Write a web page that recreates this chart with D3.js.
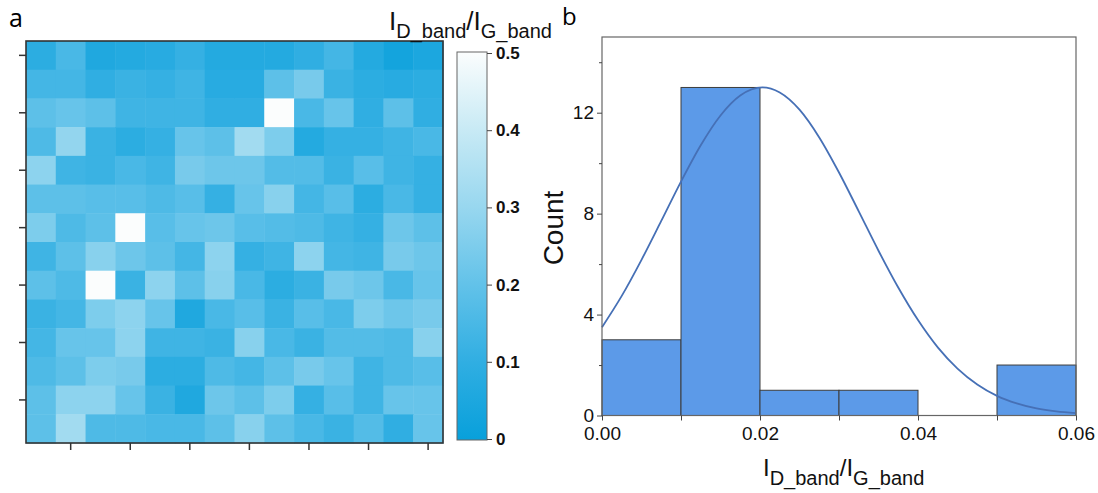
<!DOCTYPE html>
<html><head><meta charset="utf-8">
<script src="https://cdn.jsdelivr.net/npm/d3@7"></script>
<style>body{margin:0;background:#fff} svg{display:block}</style>
</head><body>
<svg id="c" width="1098" height="493"></svg>
<script>
// ---------- DATA ----------
const heatRows = [
  [0.09,0.15,0.06,0.07,0.08,0.11,0.07,0.07,0.07,0.10,0.14,0.07,0.03,0.05],
  [0.14,0.14,0.10,0.12,0.11,0.13,0.08,0.08,0.19,0.24,0.12,0.09,0.08,0.09],
  [0.19,0.21,0.19,0.13,0.13,0.13,0.10,0.10,0.50,0.15,0.21,0.10,0.19,0.10],
  [0.16,0.29,0.12,0.09,0.11,0.21,0.19,0.32,0.25,0.07,0.11,0.11,0.13,0.15],
  [0.28,0.13,0.12,0.15,0.13,0.24,0.22,0.22,0.17,0.17,0.12,0.18,0.13,0.11],
  [0.19,0.19,0.18,0.18,0.16,0.18,0.11,0.21,0.27,0.14,0.18,0.09,0.15,0.11],
  [0.25,0.16,0.19,0.50,0.18,0.21,0.22,0.18,0.17,0.16,0.13,0.11,0.22,0.19],
  [0.13,0.19,0.27,0.22,0.19,0.14,0.28,0.11,0.13,0.28,0.14,0.13,0.24,0.22],
  [0.19,0.16,0.50,0.12,0.28,0.19,0.27,0.15,0.09,0.12,0.24,0.22,0.15,0.21],
  [0.12,0.14,0.25,0.28,0.21,0.06,0.15,0.18,0.12,0.18,0.15,0.25,0.22,0.24],
  [0.14,0.21,0.21,0.28,0.13,0.13,0.12,0.27,0.15,0.12,0.17,0.17,0.16,0.27],
  [0.16,0.19,0.25,0.24,0.09,0.09,0.16,0.14,0.19,0.24,0.21,0.13,0.16,0.18],
  [0.19,0.28,0.28,0.21,0.12,0.06,0.22,0.19,0.25,0.11,0.18,0.13,0.21,0.21],
  [0.19,0.32,0.16,0.16,0.15,0.15,0.19,0.27,0.19,0.15,0.12,0.17,0.10,0.21]
];
const colorStopValues = [0, 0.1, 0.2, 0.3, 0.4, 0.5];
const colorStopColors = ["#08a0db","#30aee2","#62c2e9","#98d7ef","#c8eaf5","#fbfdfd"];
const colorbarTicks = [0, 0.1, 0.2, 0.3, 0.4, 0.5];
const colorbarTickLabels = ["0","0.1","0.2","0.3","0.4","0.5"];
const heatXTicks = [1,3,5,7,9,11,13];
const heatYTicks = [0,2,4,6,8,10,12];

const binEdges = [0, 0.01, 0.02, 0.03, 0.04, 0.05, 0.06];
const binCounts = [3, 13, 1, 1, 0, 2];
const fitX = [0,0.0025,0.005,0.0075,0.01,0.0125,0.015,0.0175,0.0203,0.0225,0.025,0.0275,0.03,0.0325,0.035,0.0375,0.04,0.0425,0.045,0.0475,0.05,0.0525,0.055,0.0575,0.06];
const fitY = [3.50,4.74,6.17,7.71,9.27,10.71,11.89,12.68,13.0,12.80,12.12,11.02,9.63,8.09,6.53,5.07,3.78,2.70,1.86,1.23,0.78,0.48,0.28,0.16,0.09];
const histXTicks = [0,0.01,0.02,0.03,0.04,0.05,0.06];
const histXLabels = ["0.00","","0.02","","0.04","","0.06"];
const histYMajor = [0,4,8,12];
const histYMinor = [2,6,10,14];

// ---------- DRAW ----------
const svg = d3.select("#c");
const FONT = "'Liberation Sans', Arial, sans-serif";

// panel a
const hx = d3.scaleBand().domain(d3.range(14)).range([26, 443]);
const hy = d3.scaleBand().domain(d3.range(14)).range([41, 443]);
const color = d3.scaleLinear().domain(colorStopValues).range(colorStopColors).clamp(true);

const cells = [];
heatRows.forEach((row, r) => row.forEach((v, c) => cells.push({r, c, v})));
svg.append("g").selectAll("rect").data(cells).join("rect")
  .attr("x", d => hx(d.c)).attr("y", d => hy(d.r))
  .attr("width", hx.bandwidth() + 0.5).attr("height", hy.bandwidth() + 0.5)
  .attr("fill", d => color(d.v));

svg.append("rect").attr("x", 26).attr("y", 41).attr("width", 417).attr("height", 402)
  .attr("fill", "none").attr("stroke", "#333").attr("stroke-width", 1.6);

const ax1 = svg.append("g").attr("transform", "translate(0,443)")
  .call(d3.axisBottom(hx).tickValues(heatXTicks).tickSize(7).tickFormat(""));
const ay1 = svg.append("g").attr("transform", "translate(26,0)")
  .call(d3.axisLeft(hy).tickValues(heatYTicks).tickSize(7).tickFormat(""));
[ax1, ay1].forEach(g => { g.select(".domain").remove(); g.selectAll("line").attr("stroke","#333").attr("stroke-width",1.5); });

svg.append("text").attr("x", 9).attr("y", 27).attr("font-family", "'Open Sans', sans-serif")
  .attr("font-size", 25).text("a");

// colorbar
const cbY = d3.scaleLinear().domain([0, 0.5]).range([439, 53]);
const grad = svg.append("defs").append("linearGradient").attr("id", "cbg")
  .attr("x1", 0).attr("y1", 1).attr("x2", 0).attr("y2", 0);
colorStopValues.forEach((v, i) => grad.append("stop").attr("offset", v / 0.5).attr("stop-color", colorStopColors[i]));
svg.append("rect").attr("x", 457).attr("y", 52).attr("width", 30).attr("height", 388)
  .attr("fill", "url(#cbg)").attr("stroke", "#666").attr("stroke-width", 1);
const cba = svg.append("g").attr("transform", "translate(487,0)")
  .call(d3.axisRight(cbY).tickValues(colorbarTicks).tickSize(5).tickPadding(4)
    .tickFormat((d, i) => colorbarTickLabels[i]));
cba.select(".domain").remove();
cba.selectAll("line").attr("stroke", "#444");
cba.selectAll("text").attr("font-family", FONT).attr("font-size", 17).attr("font-weight", "bold").attr("fill", "#111");

const cbt = svg.append("text").attr("x", 389).attr("y", 30).attr("font-family", FONT).attr("fill", "#111");
cbt.append("tspan").attr("font-size", 26).text("I");
cbt.append("tspan").attr("font-size", 20).attr("dy", 8).text("D_band");
cbt.append("tspan").attr("font-size", 26).attr("dy", -8).text("/I");
cbt.append("tspan").attr("font-size", 20).attr("dy", 8).text("G_band");

// panel b
const bx = d3.scaleLinear().domain([0, 0.06]).range([602, 1076]);
const by = d3.scaleLinear().domain([0, 15]).range([415.5, 37]);
const bins = binCounts.map((c, i) => ({x0: binEdges[i], x1: binEdges[i + 1], c}));

svg.append("g").selectAll("rect").data(bins.filter(d => d.c > 0)).join("rect")
  .attr("x", d => bx(d.x0)).attr("y", d => by(d.c))
  .attr("width", d => bx(d.x1) - bx(d.x0)).attr("height", d => by(0) - by(d.c))
  .attr("fill", "#5c9ae8").attr("stroke", "#3c3c3c").attr("stroke-width", 1);

const line = d3.line().x((d, i) => bx(fitX[i])).y(d => by(d)).curve(d3.curveMonotoneX);
svg.append("path").attr("d", line(fitY)).attr("fill", "none")
  .attr("stroke", "#4670b6").attr("stroke-width", 1.8);

svg.append("rect").attr("x", 602).attr("y", 37).attr("width", 474).attr("height", 378.5)
  .attr("fill", "none").attr("stroke", "#666").attr("stroke-width", 1.2);

const bxa = svg.append("g").attr("transform", "translate(0,415.5)")
  .call(d3.axisBottom(bx).tickValues(histXTicks).tickSize(5).tickPadding(6)
    .tickFormat((d, i) => histXLabels[i]));
const bya = svg.append("g").attr("transform", "translate(602,0)")
  .call(d3.axisLeft(by).tickValues(histYMajor).tickSize(5).tickPadding(3).tickFormat(d3.format("d")));
const byMin = svg.append("g").attr("transform", "translate(602,0)")
  .call(d3.axisLeft(by).tickValues(histYMinor).tickSize(3).tickFormat(""));
[bxa, bya, byMin].forEach(g => {
  g.select(".domain").remove();
  g.selectAll("line").attr("stroke", "#444");
  g.selectAll("text").attr("font-family", FONT).attr("font-size", 19).attr("fill", "#111");
});

svg.append("text").attr("transform", "translate(563,228) rotate(-90)")
  .attr("text-anchor", "middle").attr("font-family", FONT).attr("font-size", 28).attr("fill", "#111").text("Count");

const xl = svg.append("text").attr("x", 763).attr("y", 476).attr("font-family", FONT).attr("fill", "#111");
xl.append("tspan").attr("font-size", 24).text("I");
xl.append("tspan").attr("font-size", 20).attr("dy", 9).text("D_band");
xl.append("tspan").attr("font-size", 24).attr("dy", -9).text("/I");
xl.append("tspan").attr("font-size", 20).attr("dy", 9).text("G_band");

svg.append("text").attr("x", 562).attr("y", 25).attr("font-family", "'Open Sans', sans-serif")
  .attr("font-size", 24).text("b");
</script>
</body></html>
